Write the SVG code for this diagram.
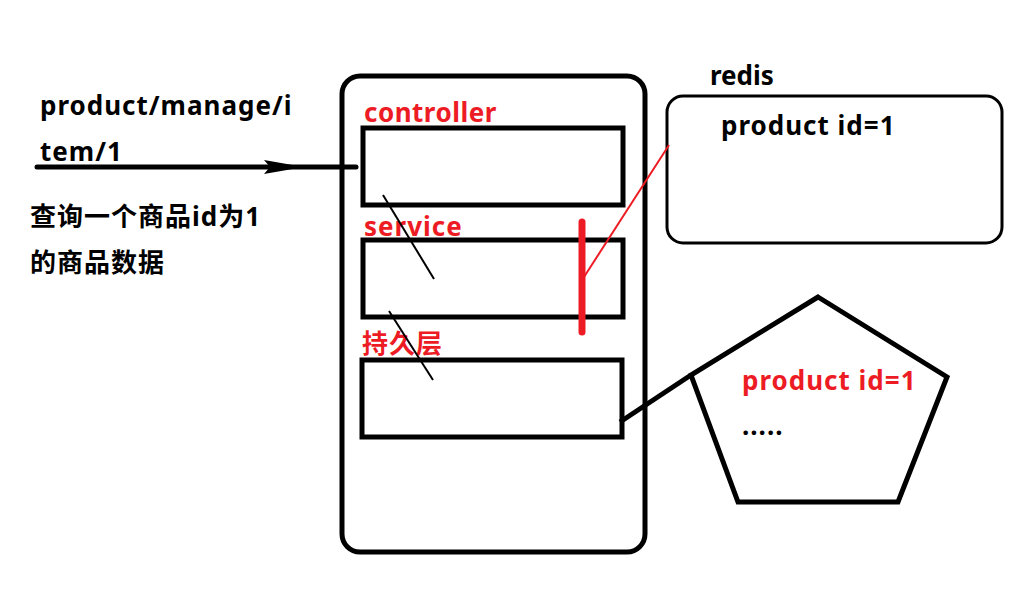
<svg xmlns="http://www.w3.org/2000/svg" width="1015" height="592" viewBox="0 0 1015 592">
<style>
.t{font-family:"Noto Sans","Noto Sans CJK SC",sans-serif;font-weight:bold;font-size:26px;letter-spacing:1px;fill:#000}
.r{fill:#ed1c24}
.box{fill:none;stroke:#000;stroke-width:5}
</style>
<rect width="1015" height="592" fill="#fff"/>
<g id="request">
<text class="t" x="40" y="115">product/manage/i</text>
<text class="t" x="40" y="161">tem/1</text>
<text class="t" x="30" y="226">查询一个商品id为1</text>
<text class="t" x="30" y="272">的商品数据</text>
</g>
<g id="app">
<rect class="box" x="342" y="76" width="303" height="476" rx="18"/>
</g>
<g id="controller">
<rect class="box" x="363" y="128" width="260" height="77"/>
<text class="t r" x="364" y="122" style="letter-spacing:0.5px">controller</text>
</g>
<g id="service">
<rect class="box" x="363" y="240" width="260" height="77"/>
<text class="t r" x="364" y="236">service</text>
</g>
<g id="persistence">
<rect class="box" x="362" y="360" width="260" height="77"/>
<text class="t r" x="362" y="353">持久层</text>
</g>
<g id="redis">
<rect x="667" y="96" width="335" height="147" rx="16" fill="none" stroke="#000" stroke-width="3"/>
<text class="t" x="710" y="85" style="letter-spacing:0">redis</text>
<text class="t" x="721" y="135">product id=1</text>
</g>
<g id="db">
<polygon class="box" points="818,297 947,377 898,502 738,502 691,375"/>
<text class="t r" x="742" y="390">product id=1</text>
<text class="t" x="742" y="435">.....</text>
</g>
<g id="connectors">
<line x1="37" y1="167" x2="356" y2="167" stroke="#000" stroke-width="5" stroke-linecap="round"/>
<polygon points="264,160 304,167 264,174 270,167" fill="#000"/>
<line x1="383" y1="195" x2="434" y2="279" stroke="#000" stroke-width="2"/>
<line x1="389" y1="311" x2="433" y2="380" stroke="#000" stroke-width="2"/>
<line x1="582" y1="222" x2="582" y2="332" stroke="#ed1c24" stroke-width="7" stroke-linecap="round"/>
<line x1="584" y1="277" x2="669" y2="145" stroke="#ed1c24" stroke-width="2"/>
<line x1="620" y1="422" x2="691" y2="375" stroke="#000" stroke-width="5"/>
</g>
</svg>
